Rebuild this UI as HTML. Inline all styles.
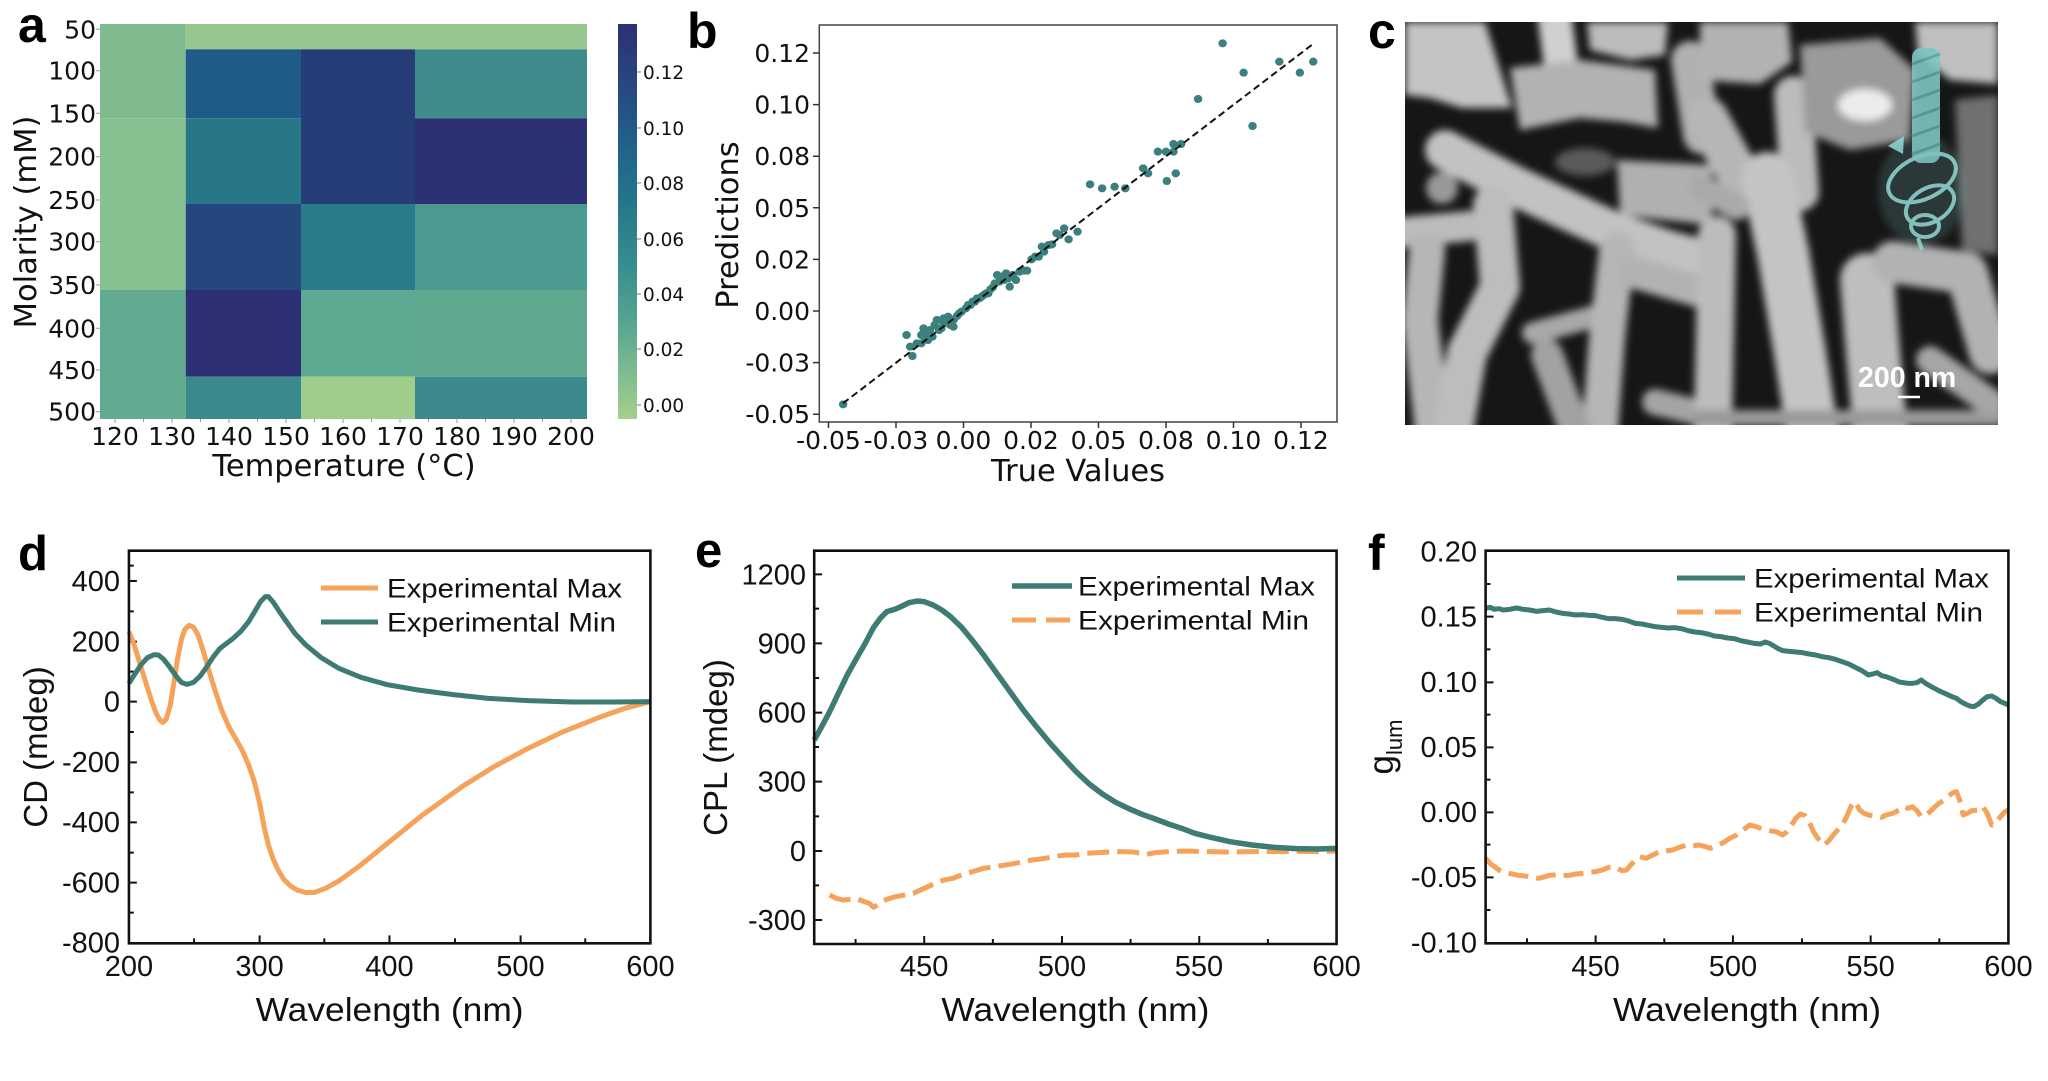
<!DOCTYPE html>
<html><head><meta charset="utf-8"><style>
html,body{margin:0;padding:0;background:#fff;}
svg{display:block;}
.dj{font-family:"DejaVu Sans","Liberation Sans",sans-serif;}
.ls{font-family:"Liberation Sans",Arial,sans-serif;}
</style></head><body>
<svg width="2048" height="1081" viewBox="0 0 2048 1081" xmlns="http://www.w3.org/2000/svg">
<defs>
<linearGradient id="cb" x1="0" y1="0" x2="0" y2="1">
<stop offset="0" stop-color="#2c3073"/><stop offset="0.15" stop-color="#28477f"/><stop offset="0.3" stop-color="#216089"/><stop offset="0.45" stop-color="#25768b"/><stop offset="0.6" stop-color="#358c8d"/><stop offset="0.75" stop-color="#55a391"/><stop offset="0.88" stop-color="#7dbb90"/><stop offset="1" stop-color="#a4cf8c"/>
</linearGradient>
<clipPath id="semclip"><rect x="1405" y="22" width="593" height="403"/></clipPath>
<filter id="blur" x="1380" y="0" width="650" height="450" filterUnits="userSpaceOnUse"><feGaussianBlur stdDeviation="4"/></filter>
<filter id="glow"><feGaussianBlur stdDeviation="4"/></filter>
</defs>
<rect width="2048" height="1081" fill="#fff"/>

<!-- ================= Panel a ================= -->
<text x="18" y="42" class="ls" font-weight="bold" font-size="50">a</text>
<g>
<rect x="100" y="24" width="85.7" height="94.3" fill="#80bb90"/>
<rect x="100" y="118.3" width="85.7" height="171.7" fill="#87c191"/>
<rect x="100" y="290" width="85.7" height="129" fill="#62aa90"/>
<rect x="185.7" y="24" width="401.3" height="25.3" fill="#97c78f"/>
<rect x="185.7" y="49.3" width="115.3" height="69" fill="#1f5b87"/>
<rect x="185.7" y="118.3" width="115.3" height="85.7" fill="#277789"/>
<rect x="185.7" y="204" width="115.3" height="86" fill="#24487e"/>
<rect x="185.7" y="290" width="115.3" height="86.7" fill="#2c2f73"/>
<rect x="185.7" y="376.7" width="115.3" height="42.3" fill="#3a898c"/>
<rect x="301" y="49.3" width="114" height="154.7" fill="#273d78"/>
<rect x="301" y="204" width="114" height="86" fill="#2b7c8b"/>
<rect x="301" y="290" width="114" height="86.7" fill="#5ea991"/>
<rect x="301" y="376.7" width="114" height="42.3" fill="#a0cd8c"/>
<rect x="415" y="49.3" width="172" height="69" fill="#3f8b8c"/>
<rect x="415" y="118.3" width="172" height="85.7" fill="#2c3175"/>
<rect x="415" y="204" width="172" height="86" fill="#4a9a8f"/>
<rect x="415" y="290" width="172" height="86.7" fill="#5fa991"/>
<rect x="415" y="376.7" width="172" height="42.3" fill="#3d8a8c"/>
</g>
<g stroke="#999" stroke-width="1">
<path d="M96 29.3h4M96 70.7h4M96 113.3h4M96 156.7h4M96 200h4M96 241.7h4M96 285h4M96 328.3h4M96 370h4M96 411.7h4"/>
<path d="M115 419v4M143.5 419v3M172 419v4M200.5 419v3M229 419v4M257.5 419v3M286 419v4M314.5 419v3M343 419v4M371.5 419v3M400 419v4M428.5 419v3M457 419v4M485.5 419v3M514 419v4M542.5 419v3M571 419v4"/>
</g>
<g class="dj" font-size="25" fill="#111" text-anchor="end">
<text x="96" y="38.3">50</text><text x="96" y="79.7">100</text><text x="96" y="122.3">150</text><text x="96" y="165.7">200</text><text x="96" y="209">250</text><text x="96" y="250.7">300</text><text x="96" y="294">350</text><text x="96" y="337.3">400</text><text x="96" y="379">450</text><text x="96" y="420.7">500</text>
</g>
<g class="dj" font-size="25" fill="#111" text-anchor="middle">
<text x="115" y="445">120</text><text x="172" y="445">130</text><text x="229" y="445">140</text><text x="286" y="445">150</text><text x="343" y="445">160</text><text x="400" y="445">170</text><text x="457" y="445">180</text><text x="514" y="445">190</text><text x="571" y="445">200</text>
</g>
<text x="344" y="476" class="dj" font-size="30.5" text-anchor="middle" fill="#111">Temperature (°C)</text>
<text x="36" y="222" class="dj" font-size="30.5" text-anchor="middle" fill="#111" transform="rotate(-90 36 222)">Molarity (mM)</text>
<rect x="618" y="24" width="19" height="395" fill="url(#cb)"/>
<g stroke="#777" stroke-width="1"><path d="M637 72h4M637 128h4M637 183h4M637 239h4M637 294h4M637 349h4M637 405h4"/></g>
<g class="dj" font-size="18.5" fill="#111">
<text x="643" y="79">0.12</text><text x="643" y="135">0.10</text><text x="643" y="190">0.08</text><text x="643" y="246">0.06</text><text x="643" y="301">0.04</text><text x="643" y="356">0.02</text><text x="643" y="412">0.00</text>
</g>

<!-- ================= Panel b ================= -->
<text x="687" y="48" class="ls" font-weight="bold" font-size="50">b</text>
<rect x="819.3" y="25" width="517.7" height="397" fill="none" stroke="#444" stroke-width="1.5"/>
<g stroke="#333" stroke-width="1.5">
<path d="M813 53h6M813 104.6h6M813 156.2h6M813 207.8h6M813 259.4h6M813 311h6M813 362.6h6M813 414.2h6"/>
<path d="M828.5 422v6M896 422v6M963.5 422v6M1031 422v6M1098.5 422v6M1166 422v6M1233.5 422v6M1301 422v6"/>
</g>
<g class="dj" font-size="25" fill="#111" text-anchor="end">
<text x="810" y="62">0.12</text><text x="810" y="113.6">0.10</text><text x="810" y="165.2">0.08</text><text x="810" y="216.8">0.05</text><text x="810" y="268.4">0.02</text><text x="810" y="320">0.00</text><text x="810" y="371.6">-0.03</text><text x="810" y="423.2">-0.05</text>
</g>
<g class="dj" font-size="25" fill="#111" text-anchor="middle">
<text x="828.5" y="449">-0.05</text><text x="896" y="449">-0.03</text><text x="963.5" y="449">0.00</text><text x="1031" y="449">0.02</text><text x="1098.5" y="449">0.05</text><text x="1166" y="449">0.08</text><text x="1233.5" y="449">0.10</text><text x="1301" y="449">0.12</text>
</g>
<text x="1078" y="481" class="dj" font-size="30.5" text-anchor="middle" fill="#111">True Values</text>
<text x="738" y="225" class="dj" font-size="30.5" text-anchor="middle" fill="#111" transform="rotate(-90 738 225)">Predictions</text>
<g transform="translate(680,0) scale(0.44643,0.33333)">
<path vector-effect="non-scaling-stroke" fill="none" stroke="#3c807d" stroke-width="8" stroke-linecap="round" d="M365 1213h1M507 1005h1M515 1040h1M520 1068h1M530 1030h1M540 1030h1M540 1005h1M545 985h1M548 1000h1M550 1015h1M555 1020h1M560 990h1M565 1010h1M570 975h1M575 960h1M580 990h1M585 985h1M590 970h1M590 955h1M595 960h1M600 965h1M600 950h1M605 975h1M612 980h1M613 958h1M620 948h1M625 940h1M630 935h1M640 925h1M645 915h1M650 915h1M655 905h1M660 905h1M665 895h1M670 895h1M675 890h1M680 885h1M685 880h1M690 880h1M695 868h1M700 862h1M705 850h1M710 825h1M715 845h1M720 830h1M725 840h1M730 820h1M735 835h1M738 860h1M745 825h1M752 840h1M760 815h1M770 812h1M777 812h1M787 778h1M795 770h1M803 770h1M810 740h1M815 755h1M825 735h1M833 733h1M843 700h1M850 705h1M860 685h1M870 718h1M890 695h1M918 553h1M945 565h1M973 560h1M997 565h1M1037 505h1M1048 520h1M1070 455h1M1088 455h1M1090 543h1M1105 455h1M1105 432h1M1110 520h1M1122 432h1M1160 297h1M1215 130h1M1262 218h1M1282 378h1M1342 185h1M1388 218h1M1418 185h1"/>
</g>
<line x1="843" y1="403.3" x2="1311.7" y2="45" stroke="#111" stroke-width="2" stroke-dasharray="7 4"/>

<!-- ================= Panel c (SEM) ================= -->
<text x="1368" y="48" class="ls" font-weight="bold" font-size="50">c</text>
<g clip-path="url(#semclip)">
<rect x="1405" y="22" width="593" height="403" fill="#161616"/>
<g filter="url(#blur)" stroke-linecap="round" stroke-linejoin="round" fill="none">
<polygon points="1405,22 1485,22 1500,70 1512,108 1462,108 1430,98 1405,95" fill="#c4c4c4"/>
<polygon points="1587,22 1668,22 1665,55 1630,60 1590,50" fill="#bcbcbc"/>
<path d="M1555 20 L1560 58" stroke="#d0d0d0" stroke-width="34"/>
<polygon points="1510,68 1580,60 1655,70 1658,128 1625,122 1580,118 1520,130" fill="#b2b2b2"/>
<ellipse cx="1585" cy="162" rx="30" ry="14" fill="#5a5a5a"/>
<path d="M1690 60 L1702 135" stroke="#b0b0b0" stroke-width="38"/>
<path d="M1445 150 L1517 187 L1567 210 L1617 233 L1667 250 L1715 263" stroke="#c2c2c2" stroke-width="40"/>
<polygon points="1617,160 1712,165 1712,225 1620,215" fill="#b0b0b0"/>
<path d="M1403 232 L1470 226" stroke="#bcbcbc" stroke-width="30"/>
<path d="M1427 250 L1420 320 L1433 430" stroke="#b6b6b6" stroke-width="36"/>
<path d="M1493 205 L1500 287 L1467 353 L1453 430" stroke="#bdbdbd" stroke-width="40"/>
<path d="M1533 333 L1607 313" stroke="#a8a8a8" stroke-width="22"/>
<path d="M1617 250 L1607 337 L1600 430" stroke="#b6b6b6" stroke-width="36"/>
<path d="M1633 272 L1712 295" stroke="#b2b2b2" stroke-width="32"/>
<path d="M1655 402 L1705 414" stroke="#a4a4a4" stroke-width="26"/>
<path d="M1547 355 L1575 430" stroke="#a2a2a2" stroke-width="32"/>
<circle cx="1442" cy="188" r="16" fill="#999"/>
<polygon points="1700,22 1788,22 1792,62 1760,84 1700,80" fill="#b2b2b2"/>
<path d="M1707 118 L1740 178" stroke="#b6b6b6" stroke-width="42"/>
<path d="M1793 95 L1800 192" stroke="#bcbcbc" stroke-width="38"/>
<polygon points="1800,45 1880,38 1915,70 1910,140 1850,150 1805,132" fill="#9a9a9a"/>
<ellipse cx="1865" cy="105" rx="27" ry="16" fill="#ececec"/>
<polygon points="1915,22 1998,22 1998,84 1950,80 1918,54" fill="#c0c0c0"/>
<polygon points="1955,100 1998,95 1998,255 1962,250" fill="#707070"/>
<path d="M1717 235 L1713 430" stroke="#bcbcbc" stroke-width="38"/>
<path d="M1767 178 L1783 253 L1800 353 L1812 430" stroke="#c4c4c4" stroke-width="52"/>
<path d="M1700 187 L1737 207" stroke="#aaaaaa" stroke-width="26"/>
<path d="M1867 280 L1873 353 L1880 430" stroke="#bebebe" stroke-width="54"/>
<path d="M1893 262 L1967 273 L1990 353" stroke="#b2b2b2" stroke-width="42"/>
<path d="M1700 418 L1998 418" stroke="#9a9a9a" stroke-width="16"/>
<path d="M1930 360 L1990 402" stroke="#a6a6a6" stroke-width="28"/>
</g>
<g opacity="0.9">
<ellipse cx="1922" cy="190" rx="44" ry="55" fill="#7fc3c0" opacity="0.22" filter="url(#glow)"/>
<rect x="1912" y="48" width="28" height="115" rx="9" fill="#80c5c1"/>
<g stroke="#5ea6a3" stroke-width="3"><path d="M1912 64L1940 54M1912 82L1940 72M1912 100L1940 90M1912 118L1940 108M1912 136L1940 126M1912 154L1940 144"/></g>
<g fill="none" stroke="#8fd2ce" stroke-width="4">
<ellipse cx="1922" cy="178" rx="36" ry="21" transform="rotate(-25 1922 178)"/>
<ellipse cx="1930" cy="205" rx="26" ry="17" transform="rotate(-30 1930 205)"/>
<ellipse cx="1925" cy="226" rx="14" ry="11"/>
<path d="M1918 238 L1922 250"/>
</g>
<polygon points="1888,146 1904,136 1903,154" fill="#8fd2ce"/>
</g>
<text x="1858" y="387" class="ls" font-weight="bold" font-size="28.5" fill="#fff">200 nm</text>
<line x1="1898" y1="397" x2="1920" y2="397" stroke="#fff" stroke-width="2.5"/>
</g>

<!-- ================= Panel d ================= -->
<text x="18" y="570" class="ls" font-weight="bold" font-size="49">d</text>
<g transform="translate(0,520) scale(0.44005,0.33333)" fill="none">
<path vector-effect="non-scaling-stroke" stroke="#111" stroke-width="2" d="M293 183h18M293 365h18M293 545h18M293 727h18M293 907h18M293 1088h18M293 137h11M293 274h11M293 455h11M293 636h11M293 817h11M293 998h11M293 1178h11M590 1270v-24M885 1270v-24M1183 1270v-24M441 1270v-15M737 1270v-15M1034 1270v-15M1330 1270v-15"/>
<polyline vector-effect="non-scaling-stroke" stroke="#f5a35a" stroke-width="5" stroke-linejoin="round" points="293,335 305,375 320,440 333,495 345,545 355,580 363,600 370,607 378,597 387,555 395,490 403,420 412,360 420,328 430,316 440,322 450,345 460,385 470,430 480,475 492,525 505,575 520,620 535,655 550,690 565,735 578,785 590,850 600,920 610,975 620,1015 632,1050 645,1078 660,1098 675,1110 695,1118 715,1117 740,1105 770,1083 820,1035 885,965 960,885 1050,800 1120,742 1200,685 1280,635 1360,593 1420,565 1478,545"/>
<polyline vector-effect="non-scaling-stroke" stroke="#3d7b74" stroke-width="5" stroke-linejoin="round" points="293,490 305,465 320,435 335,413 350,404 360,405 372,418 385,440 400,468 412,487 425,493 440,487 455,468 470,440 485,410 500,385 515,370 530,355 548,333 565,305 580,272 592,245 603,230 610,230 620,245 635,275 650,303 670,340 695,375 730,413 770,445 820,472 880,494 950,510 1030,524 1110,535 1200,542 1300,546 1400,546 1478,545"/>
<rect vector-effect="non-scaling-stroke" x="293" y="92" width="1185" height="1178" stroke="#111" stroke-width="2.6"/>
</g>
<g class="ls" font-size="29" fill="#111" text-anchor="end">
<text x="120" y="591">400</text><text x="120" y="651.7">200</text><text x="120" y="711.7">0</text><text x="120" y="772">-200</text><text x="120" y="832">-400</text><text x="120" y="892.7">-600</text><text x="120" y="952.7">-800</text>
</g>
<g class="ls" font-size="29" fill="#111" text-anchor="middle">
<text x="129" y="976">200</text><text x="259.6" y="976">300</text><text x="389.4" y="976">400</text><text x="520.5" y="976">500</text><text x="650.4" y="976">600</text>
</g>
<text x="389.6" y="1021" class="ls" font-size="33.5" text-anchor="middle" fill="#111" textLength="268" lengthAdjust="spacingAndGlyphs">Wavelength (nm)</text>
<text x="47" y="747" class="ls" font-size="33" text-anchor="middle" fill="#111" transform="rotate(-90 47 747)">CD (mdeg)</text>
<line x1="321" y1="588" x2="378" y2="588" stroke="#f5a35a" stroke-width="5"/>
<line x1="321" y1="622" x2="378" y2="622" stroke="#3d7b74" stroke-width="5"/>
<text x="387" y="597.5" class="ls" font-size="27" fill="#111" textLength="235" lengthAdjust="spacingAndGlyphs">Experimental Max</text>
<text x="387" y="631.5" class="ls" font-size="27" fill="#111" textLength="229" lengthAdjust="spacingAndGlyphs">Experimental Min</text>

<!-- ================= Panel e ================= -->
<text x="695" y="567" class="ls" font-weight="bold" font-size="49">e</text>
<g transform="translate(680,520) scale(0.44005,0.33333)" fill="none">
<path vector-effect="non-scaling-stroke" stroke="#111" stroke-width="2" d="M305 163h18M305 370h18M305 578h18M305 785h18M305 993h18M305 1200h18M305 266h11M305 474h11M305 681h11M305 889h11M305 1096h11M555 1272v-24M868 1272v-24M1180 1272v-24M399 1272v-15M711 1272v-15M1024 1272v-15M1336 1272v-15"/>
<polyline vector-effect="non-scaling-stroke" stroke="#f5a35a" stroke-width="5" stroke-dasharray="22 8" stroke-linejoin="round" points="340,1125 355,1135 370,1140 385,1138 400,1135 415,1143 430,1150 440,1162 455,1148 470,1138 490,1130 510,1125 530,1120 555,1105 580,1090 600,1080 620,1075 645,1062 665,1055 690,1045 715,1040 740,1035 770,1028 800,1020 825,1016 850,1010 875,1005 900,1005 925,1000 950,998 975,996 1000,995 1030,996 1060,1003 1080,998 1110,995 1150,993 1200,995 1250,996 1300,995 1350,995 1400,994 1450,995 1492,993"/>
<polyline vector-effect="non-scaling-stroke" stroke="#3d7b74" stroke-width="5.5" stroke-linejoin="round" points="305,660 320,625 340,575 360,520 380,465 400,418 420,372 440,322 455,295 470,275 490,267 505,258 520,248 540,243 555,245 575,255 595,270 615,290 640,322 665,362 690,405 720,460 750,515 780,570 810,620 840,668 870,712 900,755 930,792 960,822 990,847 1020,866 1050,883 1080,897 1110,912 1140,925 1170,940 1200,950 1250,965 1300,975 1350,982 1400,986 1450,987 1492,985"/>
<rect vector-effect="non-scaling-stroke" x="305" y="92" width="1187" height="1180" stroke="#111" stroke-width="2.6"/>
</g>
<g class="ls" font-size="29" fill="#111" text-anchor="end">
<text x="806" y="584.3">1200</text><text x="806" y="653.3">900</text><text x="806" y="722.7">600</text><text x="806" y="791.7">300</text><text x="806" y="861">0</text><text x="806" y="930">-300</text>
</g>
<g class="ls" font-size="29" fill="#111" text-anchor="middle">
<text x="924.2" y="976">450</text><text x="1062" y="976">500</text><text x="1199" y="976">550</text><text x="1336.6" y="976">600</text>
</g>
<text x="1075.4" y="1021" class="ls" font-size="33.5" text-anchor="middle" fill="#111" textLength="268" lengthAdjust="spacingAndGlyphs">Wavelength (nm)</text>
<text x="727" y="747.5" class="ls" font-size="33" text-anchor="middle" fill="#111" transform="rotate(-90 727 747.5)">CPL (mdeg)</text>
<line x1="1012" y1="586" x2="1072" y2="586" stroke="#3d7b74" stroke-width="5.5"/>
<line x1="1012" y1="620" x2="1072" y2="620" stroke="#f5a35a" stroke-width="5" stroke-dasharray="24 10"/>
<text x="1078" y="595.5" class="ls" font-size="27" fill="#111" textLength="237" lengthAdjust="spacingAndGlyphs">Experimental Max</text>
<text x="1078" y="629.5" class="ls" font-size="27" fill="#111" textLength="231" lengthAdjust="spacingAndGlyphs">Experimental Min</text>

<!-- ================= Panel f ================= -->
<text x="1368" y="570" class="ls" font-weight="bold" font-size="50">f</text>
<g transform="translate(1358,520) scale(0.44005,0.33333)" fill="none">
<path vector-effect="non-scaling-stroke" stroke="#111" stroke-width="2" d="M290 290h18M290 487h18M290 682h18M290 877h18M290 1072h18M290 192h11M290 388h11M290 584h11M290 779h11M290 974h11M290 1170h11M540 1270v-24M852 1270v-24M1165 1270v-24M384 1270v-15M696 1270v-15M1009 1270v-15M1321 1270v-15"/>
<polyline vector-effect="non-scaling-stroke" stroke="#f5a35a" stroke-width="5" stroke-dasharray="20 8" stroke-linejoin="round" points="290,1015 300,1030 310,1040 320,1050 335,1058 350,1062 365,1066 380,1068 395,1072 410,1075 420,1072 435,1066 450,1064 465,1066 480,1066 495,1062 510,1060 525,1057 540,1055 555,1050 570,1042 580,1040 590,1045 600,1052 610,1050 620,1035 630,1020 640,1010 655,1015 670,1005 685,995 700,993 715,990 730,982 745,976 760,978 775,975 790,980 800,985 815,978 830,968 845,955 860,945 875,930 890,915 905,920 920,928 935,932 950,935 965,945 975,935 985,915 995,895 1005,882 1015,886 1025,905 1035,935 1045,955 1060,975 1070,962 1080,945 1090,930 1100,915 1110,892 1120,860 1130,845 1140,870 1150,880 1160,885 1175,888 1190,892 1200,885 1215,880 1230,870 1240,860 1250,865 1260,860 1270,872 1280,890 1290,885 1300,875 1310,862 1320,850 1330,842 1340,830 1350,820 1360,815 1370,850 1375,885 1385,880 1395,872 1410,870 1420,860 1430,880 1440,915 1450,905 1460,890 1470,875 1478,870"/>
<polyline vector-effect="non-scaling-stroke" stroke="#3d7b74" stroke-width="5" stroke-linejoin="round" points="290,265 300,262 310,268 320,266 330,270 345,268 360,264 375,268 390,270 405,274 420,272 435,270 450,276 465,280 480,282 495,285 510,284 525,286 540,287 555,292 570,296 585,296 600,298 615,303 630,310 645,312 660,316 675,320 690,322 705,324 720,323 735,326 750,332 765,336 780,338 795,342 810,348 825,350 840,354 855,356 870,362 885,366 900,370 915,372 925,366 935,370 945,378 955,386 965,392 980,394 995,396 1010,398 1025,402 1040,405 1055,410 1070,413 1085,418 1100,425 1115,432 1130,442 1145,452 1160,465 1170,462 1180,458 1190,467 1200,470 1210,475 1220,480 1230,486 1240,488 1250,490 1260,490 1270,488 1280,480 1290,490 1300,498 1310,505 1320,512 1330,518 1340,524 1350,530 1360,535 1370,545 1380,552 1390,558 1400,560 1410,552 1420,540 1430,530 1440,528 1450,535 1460,545 1470,550 1478,555"/>
<rect vector-effect="non-scaling-stroke" x="290" y="92" width="1188" height="1178" stroke="#111" stroke-width="2.6"/>
</g>
<g class="ls" font-size="29" fill="#111" text-anchor="end">
<text x="1477" y="561.5">0.20</text><text x="1477" y="626.5">0.15</text><text x="1477" y="691.8">0.10</text><text x="1477" y="756.8">0.05</text><text x="1477" y="821.8">0.00</text><text x="1477" y="886.8">-0.05</text><text x="1477" y="952.5">-0.10</text>
</g>
<g class="ls" font-size="29" fill="#111" text-anchor="middle">
<text x="1595.6" y="976">450</text><text x="1733" y="976">500</text><text x="1870.6" y="976">550</text><text x="2008.4" y="976">600</text>
</g>
<text x="1747" y="1021" class="ls" font-size="33.5" text-anchor="middle" fill="#111" textLength="268" lengthAdjust="spacingAndGlyphs">Wavelength (nm)</text>
<text x="1393" y="747" class="ls" font-size="35" text-anchor="middle" fill="#111" transform="rotate(-90 1393 747)">g<tspan font-size="22" dy="9">lum</tspan></text>
<line x1="1677" y1="578" x2="1745" y2="578" stroke="#3d7b74" stroke-width="5"/>
<line x1="1677" y1="612" x2="1745" y2="612" stroke="#f5a35a" stroke-width="5" stroke-dasharray="26 12"/>
<text x="1754" y="587.5" class="ls" font-size="27" fill="#111" textLength="235" lengthAdjust="spacingAndGlyphs">Experimental Max</text>
<text x="1754" y="621.5" class="ls" font-size="27" fill="#111" textLength="229" lengthAdjust="spacingAndGlyphs">Experimental Min</text>
</svg>
</body></html>
